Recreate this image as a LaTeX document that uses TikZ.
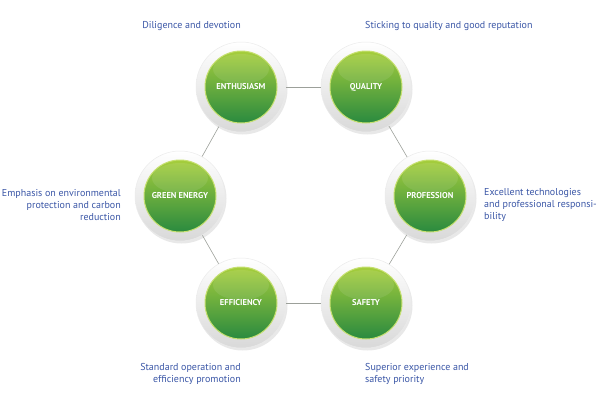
\documentclass[tikz,border=0pt]{standalone}
\usepackage{fontspec}
\setmainfont{PT Sans}
\usetikzlibrary{positioning,shadows}
\definecolor{capblue}{HTML}{3A56A6}
\definecolor{leafhi}{HTML}{A6CE3C}
\definecolor{leaflo}{HTML}{2A8A3F}
\definecolor{leafrim}{HTML}{C6E070}
\definecolor{linkgray}{HTML}{9CA09A}
\tikzset{
  ring/.style={circle, minimum size=90pt, inner sep=0pt, top color=white, bottom color=black!15,
    draw=black!8, line width=0.5pt,
    drop shadow={shadow xshift=1.5pt, shadow yshift=-2.5pt, opacity=0.15, fill=black!60}},
  core/.style={circle, minimum size=72pt, inner sep=0pt, top color=leafhi, bottom color=leaflo,
    draw=leafrim, line width=1pt},
  word/.style={text=white, font=\bfseries\fontsize{8.5}{10}\selectfont},
  link/.style={draw=linkgray, line width=0.6pt},
  caption/.style={text=capblue, font=\fontsize{10}{12}\selectfont, inner sep=0pt}
}
\begin{document}
\begin{tikzpicture}[x=1pt,y=-1pt]
  \useasboundingbox (0,0) rectangle (597,416);
  % six badges on a hexagon
  \foreach \name/\x/\y/\word in {enth/241/87/ENTHUSIASM, qual/366/87/QUALITY,
      prof/430/196/PROFESSION, safe/366/303/SAFETY, effi/241/303/EFFICIENCY,
      green/180/196/GREEN ENERGY}{
    \node[ring] (\name) at (\x,\y) {};
    \node[core] (\name-c) at (\x,\y) {};
    \fill[white, opacity=0.09] ([yshift=18pt]\name-c.center) ellipse (28pt and 15pt);
    \node[word] (\name-w) at (\name-c) {\word};
  }
  \draw[link] (enth) -- (qual);
  \draw[link] (qual) -- (prof);
  \draw[link] (prof) -- (safe);
  \draw[link] (safe) -- (effi);
  \draw[link] (effi) -- (green);
  \draw[link] (green) -- (enth);
  % captions
  \node[caption, anchor=east] (enth-t) at (241,26) {Diligence and devotion};
  \node[caption, anchor=west] (qual-t) at (365,26) {Sticking to quality and good reputation};
  \node[caption, anchor=west, align=left] (prof-t) at (484,205)
    {Excellent technologies\\and professional responsi-\\bility};
  \node[caption, anchor=west, align=left] (safe-t) at (365,374)
    {Superior experience and\\safety priority};
  \node[caption, anchor=east, align=right] (effi-t) at (241,374)
    {Standard operation and\\efficiency promotion};
  \node[caption, anchor=east, align=right] (green-t) at (121,205)
    {Emphasis on environmental\\protection and carbon\\reduction};
\end{tikzpicture}
\end{document}
